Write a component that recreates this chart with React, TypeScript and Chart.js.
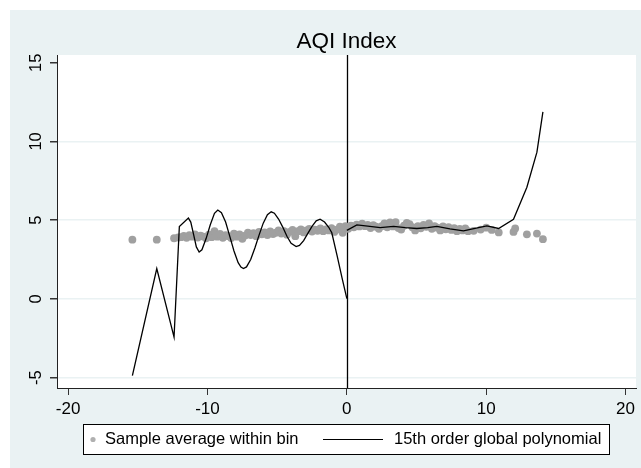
import React, { useEffect, useRef } from "react";
import { Chart, registerables } from "chart.js";

Chart.register(...registerables);

const TITLE = "AQI Index";
const X_TICKS = [-20, -10, 0, 10, 20];
const Y_TICKS = [-5, 0, 5, 10, 15];
const LEGEND_LABELS = ["Sample average within bin", "15th order global polynomial"];

const BIN_X = [
  -15.39, -13.64, -12.4, -12.1,
  -11.9, -11.7, -11.5, -11.3, -11.1, -10.9, -10.7, -10.5, -10.3, -10.1,
  -9.9, -9.7, -9.5, -9.3, -9.1, -8.9, -8.7, -8.5, -8.3, -8.1,
  -7.9, -7.7, -7.5, -7.3, -7.1, -6.9, -6.7, -6.5, -6.3, -6.1,
  -5.9, -5.7, -5.5, -5.3, -5.1, -4.9, -4.7, -4.5, -4.3, -4.1,
  -3.9, -3.7, -3.5, -3.3, -3.1, -2.9, -2.7, -2.5, -2.3, -2.1,
  -1.9, -1.7, -1.5, -1.3, -1.1, -0.9, -0.7, -0.5, -0.3, -0.1,
  0.1, 0.3, 0.5, 0.7, 0.9, 1.1, 1.3, 1.5, 1.7, 1.9,
  2.1, 2.3, 2.5, 2.7, 2.9, 3.1, 3.3, 3.5, 3.7, 3.9,
  4.1, 4.3, 4.5, 4.7, 4.9, 5.1, 5.3, 5.5, 5.7, 5.9,
  6.1, 6.3, 6.5, 6.7, 6.9, 7.1, 7.3, 7.5, 7.7, 7.9,
  8.1, 8.3, 8.5, 8.7, 9.1, 9.6, 10.0, 10.4, 10.9,
  11.96, 12.08, 12.92, 13.64, 14.07,
];
const BIN_Y = [
  3.76, 3.76, 3.85, 3.9,
  3.92, 4.0, 3.88, 4.05, 3.95, 4.1, 3.9, 4.02, 3.96, 3.85,
  4.08, 3.92, 4.3, 3.95, 4.12, 3.88, 4.05, 3.98, 3.86, 4.15,
  3.95, 4.1, 3.82, 4.02, 4.2, 4.05, 4.18, 3.98, 4.25, 4.1,
  4.22, 4.05, 4.28, 4.12, 4.2, 4.35, 4.15, 4.3, 4.08, 4.25,
  4.38, 3.98, 4.3, 4.42, 4.22, 4.35, 4.45, 4.28, 4.4, 4.32,
  4.48, 4.3, 4.42, 4.35, 4.5, 4.25, 4.4, 4.58, 4.2, 4.62,
  4.45, 4.65, 4.55, 4.72, 4.6, 4.78, 4.62, 4.7, 4.5, 4.68,
  4.58, 4.45, 4.62, 4.8, 4.55, 4.85, 4.6, 4.88, 4.5, 4.4,
  4.65, 4.82, 4.75, 4.55, 4.35, 4.62, 4.48, 4.7, 4.58, 4.8,
  4.45, 4.62, 4.52, 4.35, 4.6, 4.42, 4.55, 4.38, 4.5, 4.3,
  4.45, 4.35, 4.48, 4.3, 4.32, 4.4, 4.52, 4.38, 4.22,
  4.25, 4.47, 4.1, 4.15, 3.79,
];

const POLY_LEFT_X = [
  -15.39, -13.64, -12.4, -12.02, -11.37, -11.2, -11.0, -10.8, -10.6, -10.4,
  -10.1, -9.8, -9.5, -9.26, -9.0, -8.7, -8.4, -8.1, -7.8, -7.6,
  -7.42, -7.2, -6.9, -6.6, -6.3, -6.0, -5.7, -5.43, -5.2, -4.9,
  -4.6, -4.3, -4.0, -3.64, -3.4, -3.1, -2.8, -2.5, -2.2, -1.92,
  -1.6, -1.3, -1.08, -0.7, -0.35, 0,
];
const POLY_LEFT_Y = [
  -4.88, 1.93, -2.43, 4.6, 5.13, 4.88, 4.1, 3.3, 2.98, 3.12,
  3.83, 4.71, 5.43, 5.64, 5.47, 4.88, 3.97, 3.04, 2.3, 2.02,
  1.93, 2.03, 2.5, 3.23, 4.05, 4.81, 5.35, 5.53, 5.44, 5.07,
  4.56, 3.98, 3.53, 3.32, 3.4, 3.7, 4.16, 4.61, 4.96, 5.06,
  4.88, 4.55, 4.2, 2.75, 1.35, 0.02,
];
const POLY_RIGHT_X = [
  0, 0.72, 1.5, 2.39, 3.35, 4.2, 5.02, 5.8, 6.46, 7.4, 8.37, 9.2, 10.05, 10.89,
  11.96, 12.92, 13.64, 14.07,
];
const POLY_RIGHT_Y = [
  4.35, 4.7, 4.62, 4.53, 4.6, 4.52, 4.47, 4.52, 4.6, 4.45, 4.32, 4.48, 4.64, 4.47,
  5.06, 7.09, 9.32, 11.88,
];

const FONT = "'Liberation Sans', Arial, Helvetica, sans-serif";
const BG = "#eaf2f3";
const DOT = "#a0a0a0";

const zip = (xs: number[], ys: number[]) => xs.map((x, i) => ({ x, y: ys[i] }));

const decor = {
  id: "decor",
  beforeDraw(chart: any) {
    const { ctx, chartArea: a, width, height } = chart;
    ctx.save();
    ctx.fillStyle = "#ffffff";
    ctx.fillRect(0, 0, width, height);
    ctx.fillStyle = BG;
    ctx.fillRect(10, 10, width - 10, height - 10);
    ctx.fillStyle = "#ffffff";
    ctx.fillRect(a.left, a.top, a.right - a.left, a.bottom - a.top);
    ctx.restore();
  },
  beforeDatasetsDraw(chart: any) {
    const { ctx, chartArea: a, scales } = chart;
    const x0 = Math.round(scales.x.getPixelForValue(0)) + 0.5;
    ctx.save();
    ctx.strokeStyle = "#000";
    ctx.lineWidth = 1.3;
    ctx.beginPath();
    ctx.moveTo(x0, a.top);
    ctx.lineTo(x0, a.bottom);
    ctx.stroke();
    ctx.restore();
  },
  afterDraw(chart: any) {
    const { ctx, chartArea: a, scales } = chart;
    ctx.save();
    // title
    ctx.fillStyle = "#000";
    ctx.font = `22.5px ${FONT}`;
    ctx.textAlign = "center";
    ctx.textBaseline = "alphabetic";
    ctx.fillText(TITLE, (a.left + a.right) / 2, 48);
    // y tick labels, rotated
    ctx.font = `16.5px ${FONT}`;
    ctx.textBaseline = "middle";
    for (const v of Y_TICKS) {
      const y = scales.y.getPixelForValue(v);
      ctx.save();
      ctx.translate(36, y);
      ctx.rotate(-Math.PI / 2);
      ctx.textAlign = "center";
      ctx.fillText(String(v), 0, 0);
      ctx.restore();
    }
    // legend
    const bx = 83, by = 424, bw = 526, bh = 30;
    ctx.fillStyle = "#fff";
    ctx.fillRect(bx, by, bw, bh);
    ctx.strokeStyle = "#000";
    ctx.lineWidth = 1;
    ctx.strokeRect(bx + 0.5, by + 0.5, bw, bh);
    const cy = by + bh / 2 + 0.5;
    ctx.fillStyle = "#b0b0b0";
    ctx.beginPath();
    ctx.arc(93, cy, 2.6, 0, Math.PI * 2);
    ctx.fill();
    ctx.fillStyle = "#000";
    ctx.font = `16.5px ${FONT}`;
    ctx.textAlign = "left";
    ctx.textBaseline = "middle";
    ctx.fillText(LEGEND_LABELS[0], 105, cy);
    ctx.beginPath();
    ctx.moveTo(323, cy);
    ctx.lineTo(383, cy);
    ctx.lineWidth = 1.2;
    ctx.stroke();
    ctx.fillText(LEGEND_LABELS[1], 394, cy);
    ctx.restore();
  },
};

export default function App() {
  const ref = useRef<HTMLCanvasElement | null>(null);
  useEffect(() => {
    if (!ref.current) return;
    const chart = new Chart(ref.current, {
      type: "scatter",
      data: {
        datasets: [
          {
            label: LEGEND_LABELS[1],
            data: zip(POLY_LEFT_X, POLY_LEFT_Y),
            showLine: true,
            borderColor: "#000",
            borderWidth: 1.3,
            pointRadius: 0,
            tension: 0,
            order: 0,
          },
          {
            label: LEGEND_LABELS[1] + " (right)",
            data: zip(POLY_RIGHT_X, POLY_RIGHT_Y),
            showLine: true,
            borderColor: "#000",
            borderWidth: 1.3,
            pointRadius: 0,
            tension: 0,
            order: 0,
          },
          {
            label: LEGEND_LABELS[0],
            data: zip(BIN_X, BIN_Y),
            showLine: false,
            backgroundColor: DOT,
            borderColor: DOT,
            borderWidth: 0,
            pointRadius: 3.9,
            order: 1,
          },
        ],
      },
      options: {
        animation: false,
        responsive: false,
        devicePixelRatio: 1,
        layout: { padding: { left: 0, right: 5, top: 55, bottom: 50 } },
        plugins: {
          legend: { display: false },
          title: { display: false },
          tooltip: { enabled: false },
        },
        scales: {
          x: {
            type: "linear",
            min: -20.8,
            max: 20.75,
            afterBuildTicks: (s: any) => {
              s.ticks = X_TICKS.map((v) => ({ value: v }));
            },
            afterFit: (s: any) => {
              s.height = 30;
            },
            grid: {
              display: true,
              drawOnChartArea: false,
              color: "transparent",
              tickColor: "#333",
              tickLength: 7,
              lineWidth: 1,
            },
            border: { display: true, color: "#222", width: 1 },
            ticks: {
              color: "#000",
              font: { family: FONT, size: 17 },
              padding: 4,
              maxRotation: 0,
              autoSkip: false,
            },
          },
          y: {
            type: "linear",
            min: -5.66,
            max: 15.49,
            afterBuildTicks: (s: any) => {
              s.ticks = Y_TICKS.map((v) => ({ value: v }));
            },
            afterFit: (s: any) => {
              s.width = 57;
            },
            grid: {
              display: true,
              color: (c: any) => (c.tick && c.tick.value === 15 ? "transparent" : BG),
              tickColor: "#333",
              tickLength: 7,
              lineWidth: 1.5,
            },
            border: { display: true, color: "#222", width: 1 },
            ticks: { display: false },
          },
        },
      },
      plugins: [decor],
    });
    return () => chart.destroy();
  }, []);
  return (
    <div style={{ position: "absolute", left: 0, top: 0, width: 641, height: 468 }}>
      <canvas ref={ref} width={641} height={468} style={{ display: "block", width: 641, height: 468 }} />
    </div>
  );
}
